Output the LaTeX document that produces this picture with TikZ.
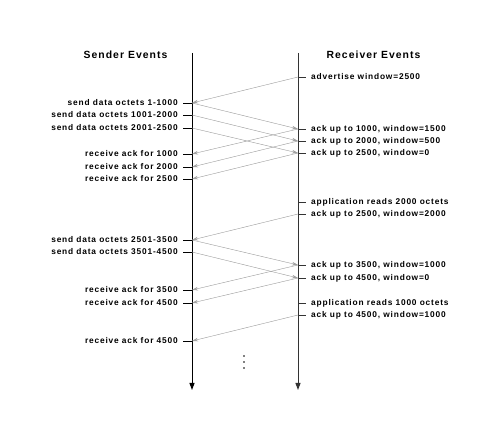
\documentclass[tikz,border=0pt]{standalone}
\usepackage{fontspec}
\setmainfont{Liberation Sans}[LetterSpace=10]
\usetikzlibrary{arrows.meta}
\begin{document}
\begin{tikzpicture}[x=1pt,y=-1pt,
  lbl/.style={font=\bfseries\fontsize{8.35}{10}\selectfont,inner sep=0pt},
  hdr/.style={font=\bfseries\fontsize{10.4}{12}\selectfont,inner sep=0pt},
  life/.style={line width=1pt,-{Triangle[length=7pt,width=5pt]}},
  tick/.style={line width=0.8pt},
  msg/.style={draw=gray!80,line width=0.4pt,-{Stealth[length=6pt,width=3.5pt,gray!75]}}]
\useasboundingbox (0,0) rectangle (499,441);
\node[hdr] (sh) at (125.5,55) {Sender Events};
\node[hdr] (rh) at (373.5,55) {Receiver Events};
\coordinate (st) at (192,53); \coordinate (sb) at (192,390);
\coordinate (rt) at (298,53); \coordinate (rb) at (298,390);
\draw[life] (st) -- (sb);
\draw[life,draw=black!80] (rt) -- (rb);
% sender events
\foreach \n/\y/\t in {s1/103/send data octets 1-1000, s2/115/send data octets 1001-2000, s3/128/send data octets 2001-2500,
  s4/154/receive ack for 1000, s5/167/receive ack for 2000, s6/179/receive ack for 2500,
  s7/240/send data octets 2501-3500, s8/252/send data octets 3501-4500,
  s9/290/receive ack for 3500, s10/303/receive ack for 4500, s11/341/receive ack for 4500}{
  \coordinate (\n) at (192,\y);
  \coordinate (\n t) at (183,\y);
  \draw[tick] (\n t) -- (\n);
  \node[lbl,anchor=east] (\n l) at (178,\y) {\t};
}
% receiver events
\foreach \n/\y/\t in {r1/77/advertise window=2500, r2/129/{ack up to 1000, window=1500}, r3/141/{ack up to 2000, window=500},
  r4/153/{ack up to 2500, window=0}, r5/202/application reads 2000 octets, r6/214/{ack up to 2500, window=2000},
  r7/265/{ack up to 3500, window=1000}, r8/278/{ack up to 4500, window=0},
  r9/303/application reads 1000 octets, r10/315/{ack up to 4500, window=1000}}{
  \coordinate (\n) at (298,\y);
  \coordinate (\n t) at (306,\y);
  \draw[tick,draw=black!80] (\n) -- (\n t);
  \node[lbl,anchor=west] (\n l) at (311,\y) {\t};
}
\draw[msg] (r1) -- (s1);
\draw[msg] (s1) -- (r2);
\draw[msg] (s2) -- (r3);
\draw[msg] (s3) -- (r4);
\draw[msg] (r2) -- (s4);
\draw[msg] (r3) -- (s5);
\draw[msg] (r4) -- (s6);
\draw[msg] (r6) -- (s7);
\draw[msg] (s7) -- (r7);
\draw[msg] (s8) -- (r8);
\draw[msg] (r7) -- (s9);
\draw[msg] (r8) -- (s10);
\draw[msg] (r10) -- (s11);
\foreach \i/\y in {d1/356, d2/362, d3/368}{
  \fill (244,\y) circle (0.8pt) coordinate (\i);
}
\end{tikzpicture}
\end{document}
